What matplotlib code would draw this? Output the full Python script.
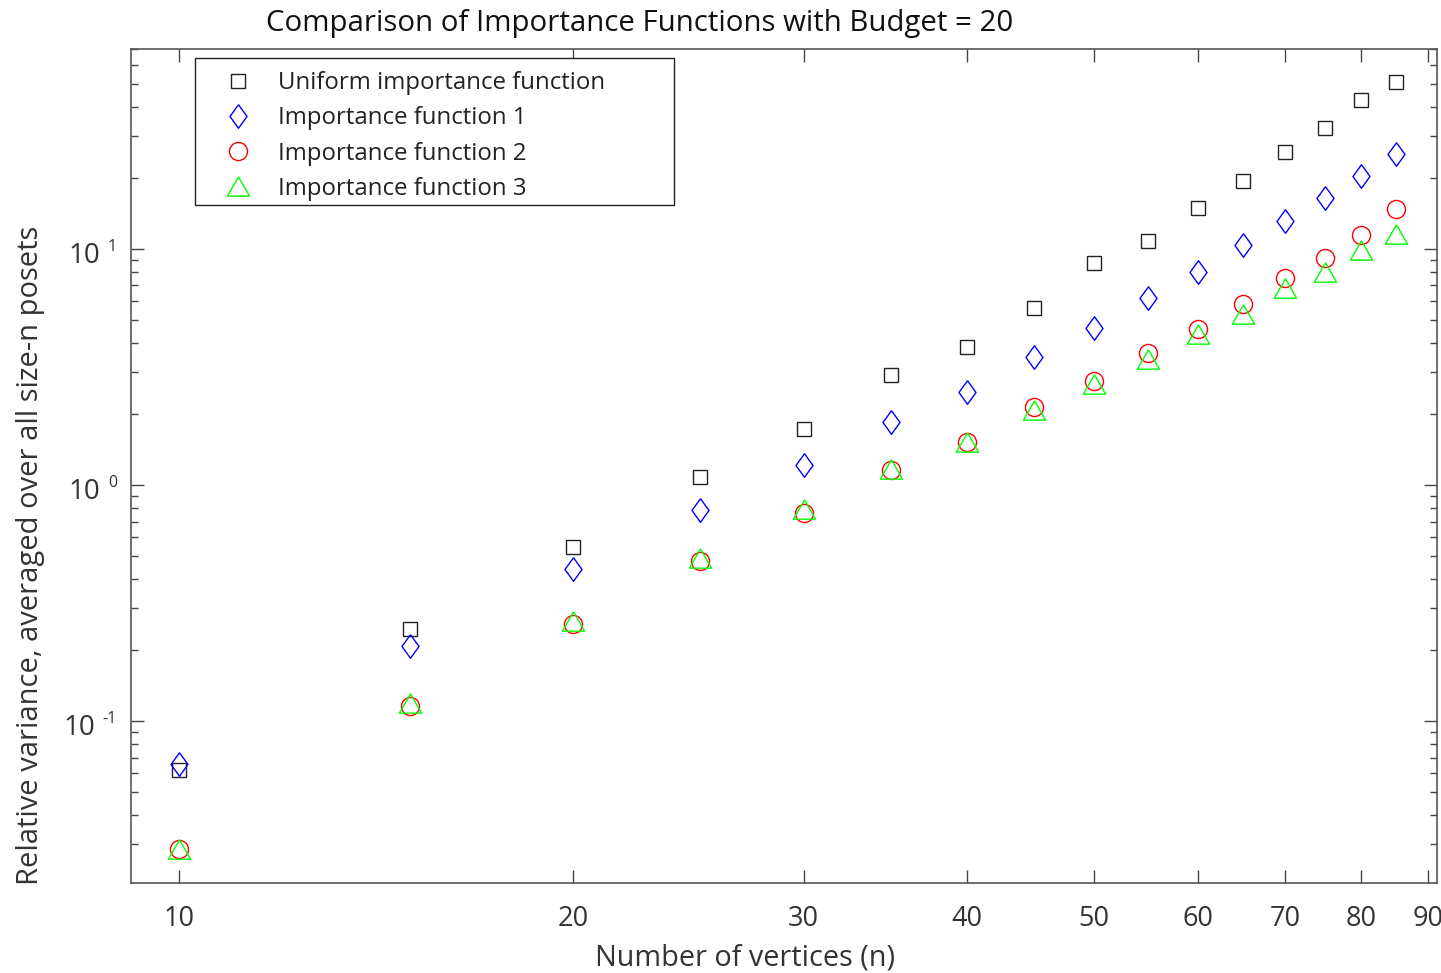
import math
import matplotlib
matplotlib.use("Agg")
import matplotlib.pyplot as plt
from matplotlib.patches import Rectangle
from matplotlib.transforms import offset_copy
from matplotlib.ticker import FixedLocator, FuncFormatter, LogLocator, NullLocator, NullFormatter

plt.rcParams['font.family'] = ['Open Sans', 'DejaVu Sans']

n_vertices = [10, 15, 20, 25, 30, 35, 40, 45, 50, 55, 60, 65, 70, 75, 80, 85]
uniform = [0.0622, 0.245, 0.545, 1.08, 1.73, 2.93, 3.85, 5.64, 8.68, 10.8, 14.9, 19.4, 25.7, 32.5, 42.7, 50.9]
imp1 = [0.066, 0.207, 0.44, 0.783, 1.22, 1.85, 2.48, 3.50, 4.64, 6.22, 7.95, 10.35, 13.1, 16.4, 20.3, 25.2]
imp2 = [0.0288, 0.116, 0.257, 0.475, 0.76, 1.16, 1.52, 2.14, 2.76, 3.64, 4.60, 5.87, 7.50, 9.12, 11.5, 14.7]
imp3 = [0.0288, 0.119, 0.265, 0.49, 0.79, 1.17, 1.52, 2.08, 2.69, 3.43, 4.38, 5.32, 6.80, 8.02, 9.86, 11.6]
x_ticks = [10, 20, 30, 40, 50, 60, 70, 80, 90]
y_ticks = [0.1, 1, 10]
labels = ['Uniform importance function', 'Importance function 1',
          'Importance function 2', 'Importance function 3']

TXT = '#333333'
W, H = 1441, 973
AX_L, AX_R, AX_T, AX_B = 131, 1437, 49, 883
fig = plt.figure(figsize=(W / 100, H / 100), dpi=100)
ax = fig.add_axes([AX_L/W, 1-AX_B/H, (AX_R-AX_L)/W, (AX_B-AX_T)/H])

diamond = [(0, 1), (0.72, 0), (0, -1), (-0.72, 0), (0, 1)]
triangle = [(0, 1), (1.15, -1), (-1.15, -1), (0, 1)]

lw = 1.0
ax.plot(n_vertices, uniform, ls='none', marker='s', ms=9.5, mfc='none', mec='#222222', mew=lw, label=labels[0])
ax.plot(n_vertices, imp1, ls='none', marker=diamond, ms=17, mfc='none', mec='#0000ff', mew=lw, label=labels[1])
ax.plot(n_vertices, imp2, ls='none', marker='o', ms=13, mfc='none', mec='#ff0000', mew=lw, label=labels[2])
ax.plot(n_vertices, imp3, ls='none', marker=triangle, ms=16, mfc='none', mec='#00ff00', mew=lw, label=labels[3])

ax.set_xscale('log')
ax.set_yscale('log')
ax.set_xlim(9.19, 91.4)
ax.set_ylim(0.0206, 70.3)

ax.xaxis.set_major_locator(FixedLocator(x_ticks))
ax.xaxis.set_major_formatter(FuncFormatter(lambda v, p: f'{int(round(v))}'))
ax.xaxis.set_minor_locator(NullLocator())
ax.xaxis.set_minor_formatter(NullFormatter())

ax.yaxis.set_major_locator(FixedLocator(y_ticks))
ax.yaxis.set_major_formatter(NullFormatter())
ax.yaxis.set_minor_locator(LogLocator(base=10, subs=range(2, 10), numticks=20))
ax.yaxis.set_minor_formatter(NullFormatter())

ax.tick_params(which='both', direction='in', top=True, right=True, colors='#444444', labelcolor=TXT)
ax.tick_params(axis='x', labelsize=19.5, pad=16)
ax.tick_params(which='major', length=9.5, width=1.0)
ax.tick_params(which='minor', length=5, width=1.0)
for s in ax.spines.values():
    s.set_color('#555555')
    s.set_linewidth(1.2)

# MATLAB-style y tick labels: "10" with a raised exponent
renderer = fig.canvas.get_renderer()
ytrans = ax.get_yaxis_transform()
for v in y_ticks:
    e = int(round(math.log10(v)))
    exp_t = ax.text((117 - AX_L) / (AX_R - AX_L), v, str(e), fontsize=11.5, color=TXT, ha='right',
                    va='baseline', transform=offset_copy(ytrans, fig=fig, x=0, y=-2, units='dots'))
    wexp = exp_t.get_window_extent(renderer).width
    xb = 117 - wexp - 8
    ax.text((xb - AX_L) / (AX_R - AX_L), v, '10', fontsize=20, color=TXT, ha='right', va='baseline',
            transform=offset_copy(ytrans, fig=fig, x=0, y=-14, units='dots'))

ax.set_xlabel('Number of vertices (n)', fontsize=20.8, color=TXT)
ax.xaxis.set_label_coords(0.47, -0.072)
ax.set_ylabel('Relative variance, averaged over all size-n posets', fontsize=21, color=TXT)
ax.yaxis.set_label_coords(-0.066, 0.393)
fig.text(640/W, 1-24/H, 'Comparison of Importance Functions with Budget = 20', fontsize=21.2,
         color='#111111', ha='center', va='center')

# legend frame (box from x=195..674, y=58..205 in pixels)
ax.add_patch(Rectangle((195/W, 1-205/H), (674-195)/W, (205-58)/H, transform=fig.transFigure,
                       facecolor='white', edgecolor='#222222', linewidth=1.0, zorder=4, clip_on=False))
fs = 17.3
leg = ax.legend(loc='upper left', bbox_to_anchor=((226-AX_L)/(AX_R-AX_L), 1-(71-AX_T)/(AX_B-AX_T)), fontsize=fs,
                frameon=False, borderpad=0, labelspacing=0.47,
                handletextpad=1.17, handlelength=1.0, borderaxespad=0)
leg.set_zorder(6)
for t in leg.get_texts():
    t.set_color('#222222')

fig.savefig('out.png', dpi=100)
